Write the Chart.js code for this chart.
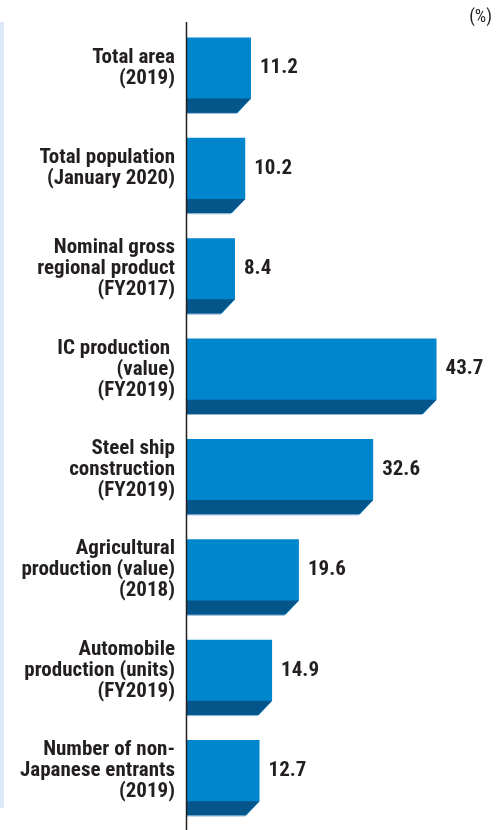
<!DOCTYPE html>
<html>
<head>
<meta charset="utf-8">
<script src="https://cdn.jsdelivr.net/npm/chart.js@4.4.0/dist/chart.umd.min.js"></script>
<style>
  body { margin: 0; background: #fff; }
  #wrap { position: relative; width: 496px; height: 830px; }
  #strip { position: absolute; left: 0; top: 22px; width: 4px; height: 786px; background: #dce7f7; }
  canvas { display: block; }
</style>
</head>
<body>
<div id="wrap">
  <div id="strip"></div>
  <canvas id="shareChart" width="496" height="830"></canvas>
</div>
<script>
const categories = [
  ['Total area', '(2019)'],
  ['Total population', '(January 2020)'],
  ['Nominal gross', 'regional product', '(FY2017)'],
  ['IC production ', '(value)', '(FY2019)'],
  ['Steel ship', 'construction', '(FY2019)'],
  ['Agricultural', 'production (value)', '(2018)'],
  ['Automobile', 'production (units)', '(FY2019)'],
  ['Number of non-', 'Japanese entrants', '(2019)']
];
const shares = [11.2, 10.2, 8.4, 43.7, 32.6, 19.6, 14.9, 12.7];
const unitLabel = '(%)';

const FONT = '"Liberation Sans Narrow", "Arial Narrow", "Roboto Condensed", sans-serif';
const TEXT = '#231f20';
const FRONT = '#0086cd';
const DARK = '#04558a';

// 3D-ish bottom strip, value labels, axis line and unit
const barDeco = {
  id: 'barDeco',
  afterDatasetsDraw(chart) {
    const ctx = chart.ctx;
    const area = chart.chartArea;
    const meta = chart.getDatasetMeta(0);
    ctx.save();
    meta.data.forEach((bar, i) => {
      const p = bar.getProps(['x', 'y', 'base', 'height'], true);
      const top = p.y - p.height / 2;
      const bottom = p.y + p.height / 2;
      const sh = p.height * 0.19;
      const fb = bottom - sh;
      // cut the corner
      ctx.fillStyle = '#fff';
      ctx.beginPath();
      ctx.moveTo(p.x, fb);
      ctx.lineTo(p.x + 1, fb);
      ctx.lineTo(p.x + 1, bottom + 1);
      ctx.lineTo(p.x - sh, bottom + 1);
      ctx.closePath();
      ctx.fill();
      // dark strip
      ctx.fillStyle = DARK;
      ctx.beginPath();
      ctx.moveTo(p.base, fb);
      ctx.lineTo(p.x, fb);
      ctx.lineTo(p.x - sh, bottom);
      ctx.lineTo(p.base, bottom);
      ctx.closePath();
      ctx.fill();
      ctx.fillStyle = '#8db4d2';
      ctx.fillRect(p.base, bottom, p.x - sh - p.base, 1);
      // value
      ctx.fillStyle = TEXT;
      ctx.font = 'bold 21px ' + FONT;
      ctx.textAlign = 'left';
      ctx.textBaseline = 'middle';
      ctx.fillText(shares[i].toFixed(1), p.x + 9, (top + fb) / 2);
    });
    // axis line
    ctx.strokeStyle = TEXT;
    ctx.lineWidth = 1.5;
    ctx.beginPath();
    ctx.moveTo(area.left - 0.5, area.top - 3);
    ctx.lineTo(area.left - 0.5, chart.height);
    ctx.stroke();
    // unit
    ctx.font = '18px ' + FONT;
    ctx.textAlign = 'right';
    ctx.fillText(unitLabel, chart.width - 4, 17);
    ctx.restore();
  }
};

new Chart(document.getElementById('shareChart'), {
  type: 'bar',
  data: {
    labels: categories,
    datasets: [{
      data: shares,
      backgroundColor: FRONT,
      barPercentage: 0.751,
      categoryPercentage: 1
    }]
  },
  options: {
    indexAxis: 'y',
    responsive: false,
    animation: false,
    layout: { padding: { top: 25, bottom: 2, left: 0, right: 23.5 } },
    plugins: { legend: { display: false }, tooltip: { enabled: false } },
    scales: {
      x: { display: false, min: 0, max: 50 },
      y: {
        grid: { display: false, drawTicks: false },
        border: { display: false },
        ticks: {
          color: TEXT,
          font: { family: FONT, size: 21, weight: 'bold', lineHeight: 1.0 },
          padding: 12,
          labelOffset: -7
        },
        afterFit(s) {
          s.width = 187;
          s.paddingTop = 0;
          s.paddingBottom = 0;
        }
      }
    }
  },
  plugins: [barDeco]
});
</script>
</body>
</html>
